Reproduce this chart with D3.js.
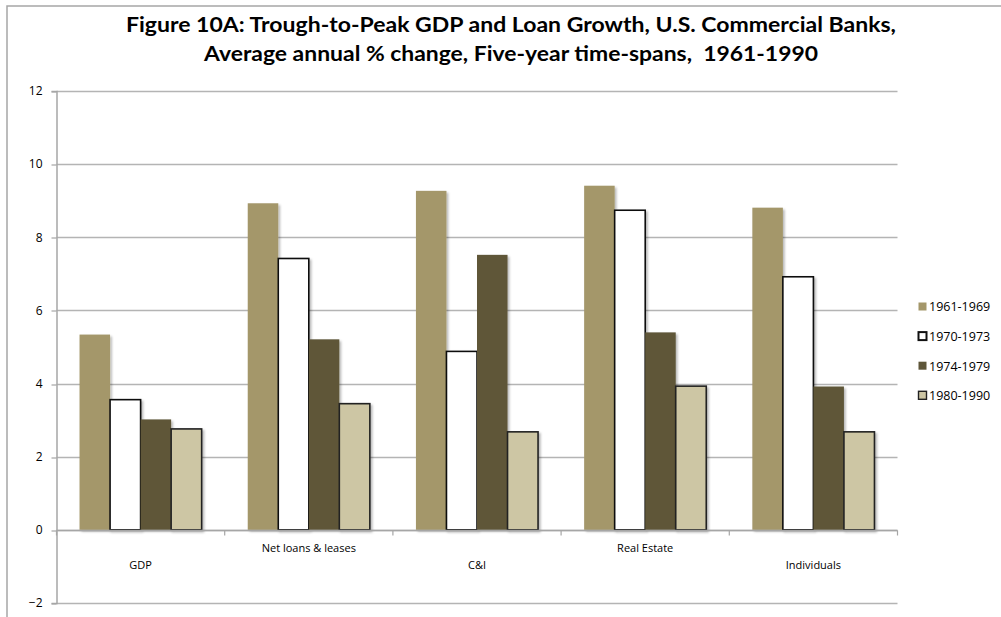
<!DOCTYPE html>
<html>
<head>
<meta charset="utf-8">
<script src="https://cdn.jsdelivr.net/npm/d3@7/dist/d3.min.js"></script>
<style>
  html, body { margin: 0; padding: 0; background: #fff; }
  svg { display: block; }
  text.title { white-space: pre; }
</style>
</head>
<body>
<svg id="chart" width="1001" height="617"></svg>
<script>
// Loan categories and time-span series (average annual % change)
const categories = ["GDP", "Net loans & leases", "C&I", "Real Estate", "Individuals"];
const seriesNames = ["1961-1969", "1970-1973", "1974-1979", "1980-1990"];
const s1961_1969 = [5.34, 8.93, 9.27, 9.41, 8.81];
const s1970_1973 = [3.56, 7.42, 4.88, 8.74, 6.92];
const s1974_1979 = [3.02, 5.21, 7.52, 5.40, 3.92];
const s1980_1990 = [2.76, 3.45, 2.68, 3.93, 2.68];
const yTicks = [-2, 0, 2, 4, 6, 8, 10, 12];
const titleLines = [
  "Figure 10A: Trough-to-Peak GDP and Loan Growth, U.S. Commercial Banks,",
  "Average annual % change, Five-year time-spans,  1961-1990"
];

const seriesValues = [s1961_1969, s1970_1973, s1974_1979, s1980_1990];
const fills = ["#a4976a", "#ffffff", "#5e5639", "#cdc6a4"];
const strokes = [null, "#111111", null, "#222222"];

const svg = d3.select("#chart");
const W = 1001, H = 617;
const plot = { left: 56.5, right: 897.5, top: 91, bottom: 603 };

// drop shadow for bars
const defs = svg.append("defs");
const f = defs.append("filter").attr("id", "shadow")
  .attr("x", "-20%").attr("y", "-5%").attr("width", "140%").attr("height", "110%");
f.append("feDropShadow").attr("dx", 1.8).attr("dy", 1.8)
  .attr("stdDeviation", 1.2).attr("flood-color", "#000").attr("flood-opacity", 0.28);

// outer frame
svg.append("path")
  .attr("d", `M7,${H + 2} L7,6 L${W + 2},6`)
  .attr("fill", "none").attr("stroke", "#a6a6a6").attr("stroke-width", 1.5);

// title
const titleSvg = svg.append("g").attr("font-family", "Lato, 'Open Sans', sans-serif")
  .attr("font-weight", 700).attr("font-size", 20).attr("fill", "#000");
titleSvg.append("text").attr("class", "title").attr("xml:space", "preserve")
  .attr("x", 511).attr("y", 32).attr("text-anchor", "middle")
  .attr("textLength", 770).attr("lengthAdjust", "spacingAndGlyphs").text(titleLines[0]);
titleSvg.append("text").attr("class", "title").attr("xml:space", "preserve")
  .attr("x", 511).attr("y", 61).attr("text-anchor", "middle")
  .attr("textLength", 614).attr("lengthAdjust", "spacingAndGlyphs").text(titleLines[1]);

// scales
const y = d3.scaleLinear().domain([-2, 12]).range([plot.bottom, plot.top]);
const x0 = d3.scaleBand().domain(categories)
  .range([plot.left, plot.right]).paddingInner(0.274).paddingOuter(0.137);
const x1 = d3.scaleBand().domain(seriesNames).range([0, x0.bandwidth()]).padding(0);

// horizontal gridlines
svg.append("g").selectAll("line").data(yTicks).join("line")
  .attr("x1", plot.left).attr("x2", plot.right)
  .attr("y1", d => Math.round(y(d)) + 0.5).attr("y2", d => Math.round(y(d)) + 0.5)
  .attr("stroke", "#b4b4b4").attr("stroke-width", 1.5);

// left axis
const yAxis = d3.axisLeft(y).tickValues(yTicks).tickSize(5).tickPadding(9).tickFormat(d3.format("d"));
const gy = svg.append("g").attr("transform", `translate(${plot.left},0)`).call(yAxis);
gy.select(".domain").attr("stroke", "#a6a6a6").attr("stroke-width", 1.5);
gy.selectAll(".tick line").attr("stroke", "#a6a6a6").attr("stroke-width", 1.2)
  .attr("transform", (d) => `translate(0,${Math.round(y(d)) + 0.5 - y(d)})`);
gy.selectAll(".tick text").attr("font-family", "'Open Sans', sans-serif")
  .attr("font-size", 12).attr("fill", "#000");

// bars
const groups = svg.append("g").selectAll("g").data(categories).join("g")
  .attr("transform", d => `translate(${x0(d)},0)`);
groups.selectAll("rect")
  .data((c, i) => seriesNames.map((s, k) => ({ s, k, v: seriesValues[k][i] })))
  .join("rect")
  .attr("x", d => x1(d.s))
  .attr("width", x1.bandwidth())
  .attr("y", d => y(Math.max(0, d.v)))
  .attr("height", d => Math.abs(y(d.v) - y(0)))
  .attr("fill", d => fills[d.k])
  .attr("stroke", d => strokes[d.k] || "none")
  .attr("stroke-width", 1.6)
  .attr("filter", "url(#shadow)");

// zero axis with category boundary ticks
const y0 = Math.round(y(0)) + 0.5;
svg.append("line").attr("x1", plot.left).attr("x2", plot.right)
  .attr("y1", y0).attr("y2", y0).attr("stroke", "#a6a6a6").attr("stroke-width", 1.5);
const boundaries = categories.map(c => x0(c) - x0.step() * x0.paddingInner() / 2)
  .concat([plot.right]);
svg.append("g").selectAll("line").data(boundaries).join("line")
  .attr("x1", d => d).attr("x2", d => d)
  .attr("y1", y0).attr("y2", y0 + 5)
  .attr("stroke", "#a6a6a6").attr("stroke-width", 1.2);

// category labels (staggered)
svg.append("g").selectAll("text").data(categories).join("text")
  .attr("x", d => x0(d) + x0.bandwidth() / 2)
  .attr("y", (d, i) => i % 2 === 1 ? 552 : 569)
  .attr("text-anchor", "middle")
  .attr("font-family", "'Open Sans', sans-serif").attr("font-size", 11)
  .attr("fill", "#000").text(d => d);

// legend
const legend = svg.append("g").attr("transform", "translate(918,0)");
const legendRows = legend.selectAll("g").data(seriesNames).join("g")
  .attr("transform", (d, i) => `translate(0,${307 + i * 29.6})`);
legendRows.append("rect")
  .attr("x", 0.5).attr("y", -4.5).attr("width", 8).attr("height", 8)
  .attr("fill", (d, i) => fills[i])
  .attr("stroke", (d, i) => strokes[i] || "none")
  .attr("stroke-width", (d, i) => i === 1 ? 2 : 1.4);
legendRows.append("text")
  .attr("x", 11).attr("y", 0).attr("dy", "0.35em")
  .attr("font-family", "'Open Sans', sans-serif").attr("font-size", 12.5)
  .attr("fill", "#000").text(d => d);
</script>
</body>
</html>
